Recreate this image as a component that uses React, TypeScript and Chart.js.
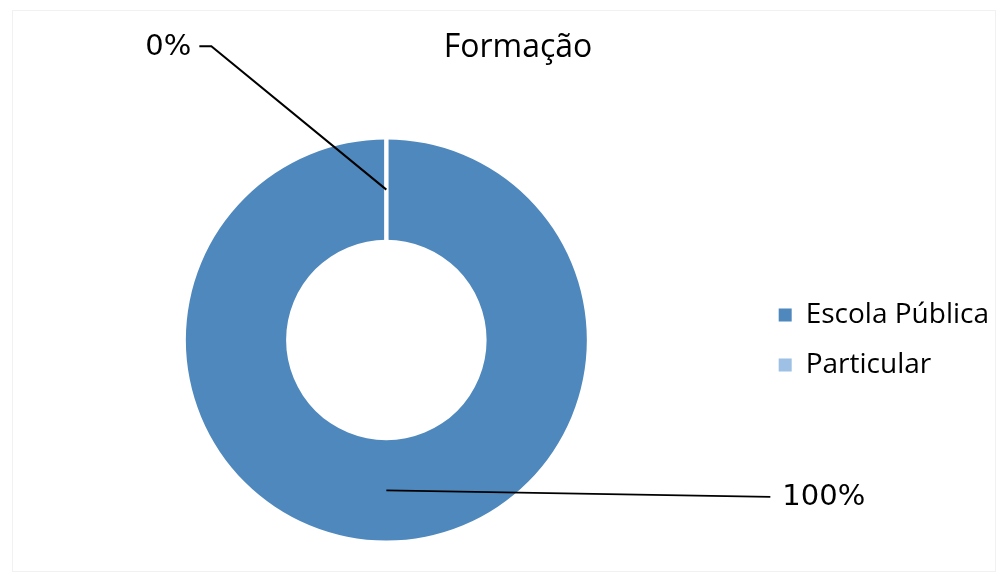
import React, { useEffect, useRef } from "react";
import { Chart, registerables } from "chart.js";

Chart.register(...registerables);

const categories: string[] = ["Escola Pública", "Particular"];
const values: number[] = [100, 0];
const colors: string[] = ["#4F88BD", "#9DC0E4"];
const chartTitle = "Formação";

// label placement relative to each arc's centroid
const labelLayout = [
  { dx: 384, dy: 6.5, tick: 0, gap: 12, align: "left" as CanvasTextAlign },
  { dx: -175, dy: -143.5, tick: -12, gap: -8, align: "right" as CanvasTextAlign },
];

const titlePlugin = {
  id: "offsetTitle",
  afterDraw(chart: any) {
    const ctx: CanvasRenderingContext2D = chart.ctx;
    ctx.save();
    ctx.fillStyle = "#000000";
    ctx.font = "32px 'Open Sans'";
    ctx.textAlign = "center";
    ctx.textBaseline = "alphabetic";
    ctx.fillText(chartTitle, 518, 57);
    ctx.restore();
  },
};

const leaderPlugin = {
  id: "leaderLabels",
  afterDatasetsDraw(chart: any) {
    const meta = chart.getDatasetMeta(0);
    const ctx: CanvasRenderingContext2D = chart.ctx;
    const data: number[] = chart.data.datasets[0].data;
    const total = data.reduce((a, b) => a + b, 0);
    // white separators between segments
    meta.data.forEach((arc: any) => {
      const { x, y, startAngle, innerRadius, outerRadius } = arc.getProps(
        ["x", "y", "startAngle", "innerRadius", "outerRadius"],
        true
      );
      ctx.save();
      ctx.strokeStyle = "#ffffff";
      ctx.lineWidth = 4;
      ctx.beginPath();
      ctx.moveTo(x + Math.cos(startAngle) * (innerRadius - 1), y + Math.sin(startAngle) * (innerRadius - 1));
      ctx.lineTo(x + Math.cos(startAngle) * (outerRadius + 1), y + Math.sin(startAngle) * (outerRadius + 1));
      ctx.stroke();
      ctx.restore();
    });
    // leader lines and percentage labels
    meta.data.forEach((arc: any, i: number) => {
      const lay = labelLayout[i];
      if (!lay) return;
      const p = arc.tooltipPosition(true);
      const ex = p.x + lay.dx;
      const ey = p.y + lay.dy;
      const tx = ex + lay.tick;
      ctx.save();
      ctx.strokeStyle = "#000000";
      ctx.lineWidth = 2;
      ctx.beginPath();
      ctx.moveTo(p.x, p.y);
      ctx.lineTo(ex, ey);
      if (lay.tick) ctx.lineTo(tx, ey);
      ctx.stroke();
      ctx.fillStyle = "#000000";
      ctx.font = "29px 'DejaVu Sans'";
      ctx.textAlign = lay.align;
      ctx.textBaseline = "middle";
      const pct = total ? Math.round((data[i] / total) * 100) : 0;
      ctx.fillText(pct + "%", tx + lay.gap, ey + 1);
      ctx.restore();
    });
  },
};

export default function App() {
  const ref = useRef<HTMLCanvasElement | null>(null);
  useEffect(() => {
    document.body.style.margin = "0";
    if (!ref.current) return;
    const chart = new Chart(ref.current, {
      type: "doughnut",
      data: {
        labels: categories,
        datasets: [
          {
            data: values,
            backgroundColor: colors,
            borderWidth: 0,
          },
        ],
      },
      options: {
        animation: false,
        responsive: true,
        maintainAspectRatio: false,
        cutout: "50%",
        layout: { padding: { left: 16, right: 8, top: 139.5, bottom: 43.5 } },
        plugins: {
          title: { display: false },
          legend: {
            position: "right",
            fullSize: false,
            labels: {
              boxWidth: 13,
              boxHeight: 13,
              padding: 22,
              color: "#000000",
              font: { family: "'Open Sans'", size: 28 },
            },
          },
          tooltip: { enabled: false },
        },
      },
      plugins: [leaderPlugin, titlePlugin],
    });
    return () => chart.destroy();
  }, []);
  return (
    <div style={{ position: "absolute", left: 0, top: 0, width: 1007, height: 584, background: "#ffffff" }}>
      <canvas ref={ref} />
      <div
        style={{
          position: "absolute",
          left: 12,
          top: 10,
          width: 982,
          height: 560,
          border: "1px solid #f1f1f1",
          pointerEvents: "none",
        }}
      />
    </div>
  );
}
